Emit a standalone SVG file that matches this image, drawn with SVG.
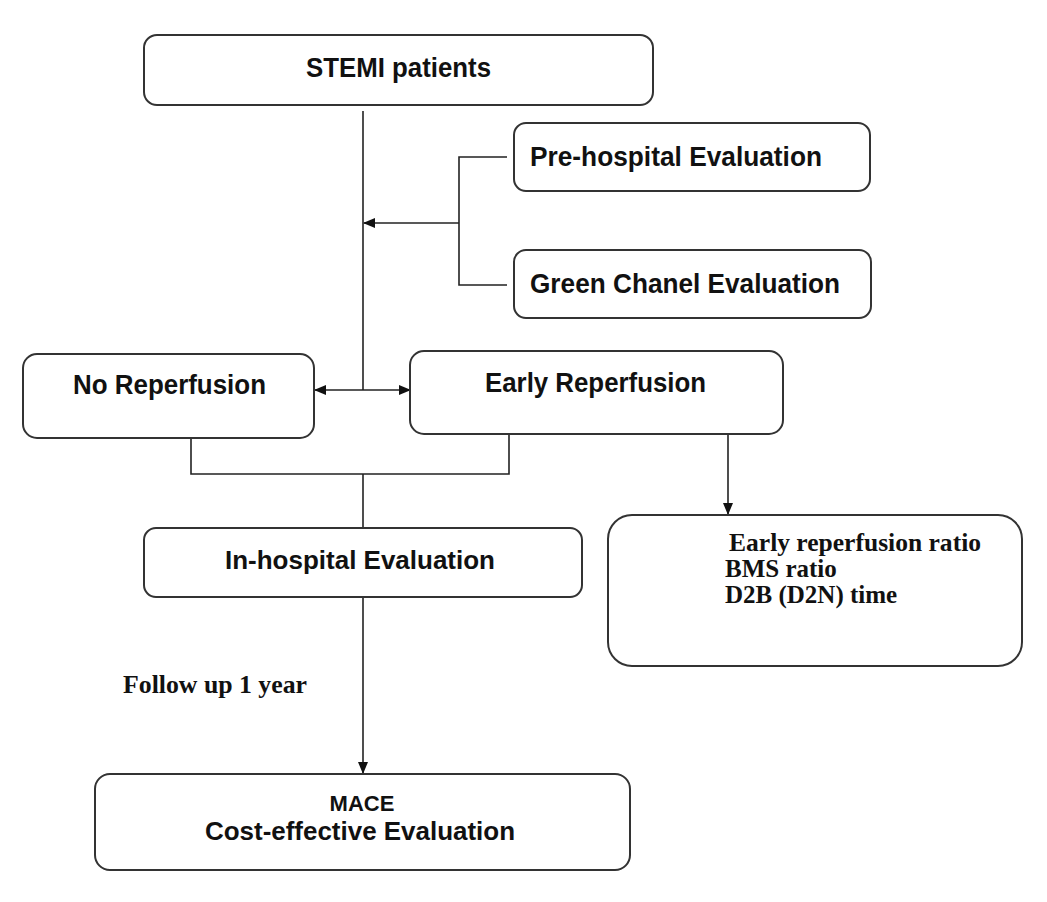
<svg xmlns="http://www.w3.org/2000/svg" width="1047" height="902" viewBox="0 0 1047 902">
<style>
.box{fill:#fff;stroke:#333;stroke-width:2}
.lbl{font-family:"Liberation Sans",Arial,sans-serif;font-weight:bold;fill:#111}
.ser{font-family:"Liberation Serif","Times New Roman",serif;font-weight:bold;fill:#111}
.con{fill:none;stroke:#222;stroke-width:1.6}
</style>
<defs>
<marker id="ah" markerUnits="userSpaceOnUse" markerWidth="12" markerHeight="10" refX="11" refY="5" orient="auto-start-reverse" viewBox="0 0 12 10">
<path d="M0,0 L12,5 L0,10 z" fill="#111"/>
</marker>
</defs>
<rect width="1047" height="902" fill="#fff"/>
<g id="connectors">
<path class="con" d="M363,111 V390"/>
<path class="con" d="M507,157 H459 V285 H507"/>
<path class="con" d="M459,223 H364" marker-end="url(#ah)"/>
<path class="con" d="M315,390 H410" marker-start="url(#ah)" marker-end="url(#ah)"/>
<path class="con" d="M191,438 V474 H509 V434"/>
<path class="con" d="M363,474 V528"/>
<path class="con" d="M363,597 V773" marker-end="url(#ah)"/>
<path class="con" d="M728,434 V514" marker-end="url(#ah)"/>
</g>
<g id="stemi">
<rect class="box" x="144" y="35" width="509" height="70" rx="13"/>
<text class="lbl" x="306" y="77" font-size="27" textLength="185" lengthAdjust="spacingAndGlyphs">STEMI patients</text>
</g>
<g id="prehospital">
<rect class="box" x="514" y="123" width="356" height="68" rx="12"/>
<text class="lbl" x="530" y="166" font-size="27" textLength="292" lengthAdjust="spacingAndGlyphs">Pre-hospital Evaluation</text>
</g>
<g id="greenchanel">
<rect class="box" x="514" y="250" width="357" height="68" rx="12"/>
<text class="lbl" x="530" y="293" font-size="27" textLength="310" lengthAdjust="spacingAndGlyphs">Green Chanel Evaluation</text>
</g>
<g id="noreperfusion">
<rect class="box" x="23" y="354" width="291" height="84" rx="14"/>
<text class="lbl" x="73" y="394" font-size="27" textLength="193" lengthAdjust="spacingAndGlyphs">No Reperfusion</text>
</g>
<g id="earlyreperfusion">
<rect class="box" x="410" y="351" width="373" height="83" rx="14"/>
<text class="lbl" x="485" y="392" font-size="27" textLength="221" lengthAdjust="spacingAndGlyphs">Early Reperfusion</text>
</g>
<g id="inhospital">
<rect class="box" x="144" y="528" width="438" height="69" rx="12"/>
<text class="lbl" x="225" y="569" font-size="26" textLength="270" lengthAdjust="spacingAndGlyphs">In-hospital Evaluation</text>
</g>
<g id="metrics">
<rect class="box" x="608" y="515" width="414" height="151" rx="24"/>
<text class="ser" x="729" y="551" font-size="25" textLength="252" lengthAdjust="spacingAndGlyphs">Early reperfusion ratio</text>
<text class="ser" x="725" y="577" font-size="25">BMS ratio</text>
<text class="ser" x="725" y="603" font-size="25">D2B (D2N) time</text>
</g>
<text id="followup" class="ser" x="123" y="693" font-size="25" textLength="184" lengthAdjust="spacingAndGlyphs">Follow up 1 year</text>
<g id="mace">
<rect class="box" x="95" y="774" width="535" height="96" rx="15"/>
<text class="lbl" x="362" y="811" font-size="22" text-anchor="middle">MACE</text>
<text class="lbl" x="205" y="840" font-size="25" textLength="310" lengthAdjust="spacingAndGlyphs">Cost-effective Evaluation</text>
</g>
</svg>
